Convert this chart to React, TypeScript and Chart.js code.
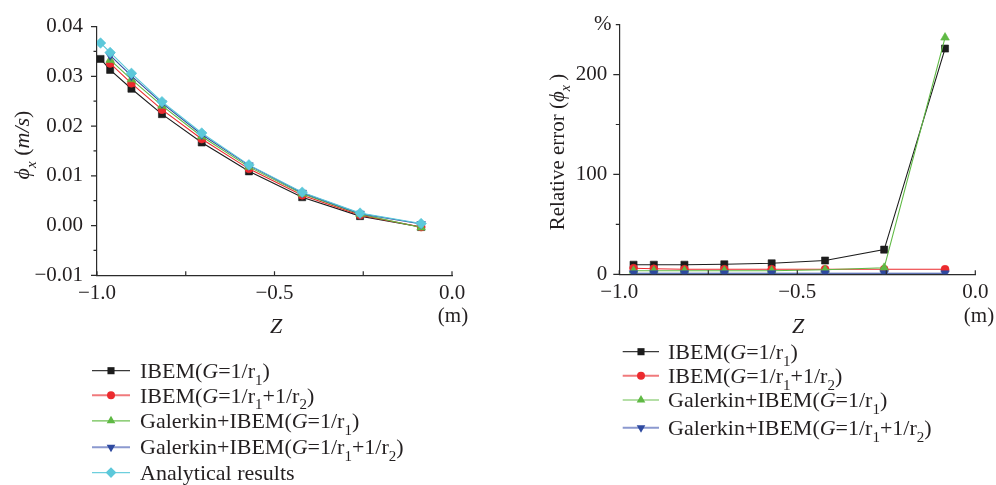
import React, { useEffect, useRef } from "react";
import { Chart, registerables } from "chart.js";

Chart.register(...registerables);

// Depth of the sample points along Z (m)
const zPhi = [-0.99, -0.963, -0.903, -0.817, -0.705, -0.572, -0.422, -0.259, -0.087];
const zErr = [-0.96, -0.903, -0.817, -0.705, -0.572, -0.422, -0.256, -0.085];

// Horizontal velocity potential derivative phi_x (m/s)
const phiIbemG1 = [0.0335, 0.0313, 0.0275, 0.0224, 0.0167, 0.0109, 0.0057, 0.0019, -0.0003];
const phiIbemG2 = [null, 0.0326, 0.0286, 0.0233, 0.0174, 0.0114, 0.0061, 0.0021, -0.0003];
const phiGalG1 = [null, 0.0333, 0.0294, 0.0241, 0.0179, 0.0118, 0.0064, 0.0023, -0.0004];
const phiGalG2 = [null, 0.0342, 0.0301, 0.0246, 0.0183, 0.0121, 0.0066, 0.0024, 0.0003];
const phiAnalytic = [0.0367, 0.0348, 0.0306, 0.0249, 0.0186, 0.0122, 0.0067, 0.0025, 0.0004];

// Relative error of phi_x (%)
const errIbemG1 = [9.6, 9.6, 9.6, 10, 11, 13.8, 24.7, 226];
const errIbemG2 = [6, 5.5, 5, 5, 5, 5, 5, 5];
const errGalG1 = [3.5, 3.5, 3.5, 3.5, 3.5, 4.5, 6.5, 237];
const errGalG2 = [1, 1, 1, 1, 1, 1, 1, 1];

// Axis ticks
const zTicks = [-1, -0.5, 0];
const zMinorTicks = [-0.75, -0.25];
const phiTicks = [-0.01, 0, 0.01, 0.02, 0.03, 0.04];
const phiMinorTicks = [-0.005, 0.005, 0.015, 0.025, 0.035];
const errTicks = [0, 100, 200];
const errMinorTicks = [50, 150, 250];

const FONT = '"Liberation Serif", "Times New Roman", Times, serif';
const INK = "#231f20";

type Seg = { t: string; it?: boolean; sub?: boolean };

const labelIbemG1: Seg[] = [{ t: "IBEM(" }, { t: "G", it: true }, { t: "=1/r" }, { t: "1", sub: true }, { t: ")" }];
const labelIbemG2: Seg[] = [
  { t: "IBEM(" }, { t: "G", it: true }, { t: "=1/r" }, { t: "1", sub: true },
  { t: "+1/r" }, { t: "2", sub: true }, { t: ")" },
];
const labelGalG1: Seg[] = [{ t: "Galerkin+IBEM(" }, { t: "G", it: true }, { t: "=1/r" }, { t: "1", sub: true }, { t: ")" }];
const labelGalG2: Seg[] = [
  { t: "Galerkin+IBEM(" }, { t: "G", it: true }, { t: "=1/r" }, { t: "1", sub: true },
  { t: "+1/r" }, { t: "2", sub: true }, { t: ")" },
];
const labelAnalytic: Seg[] = [{ t: "Analytical results" }];

type Style = {
  color: string;
  legendLine: string;
  legendWidth: number;
  point: string;
  radius: number;
  rotation?: number;
  order: number;
};

const sIbemG1: Style = { color: "#1c1c1c", legendLine: "#3a3a3a", legendWidth: 1.2, point: "rect", radius: 5, order: 5 };
const sIbemG2: Style = { color: "#ec2a2e", legendLine: "#f07a7c", legendWidth: 2, point: "circle", radius: 4, order: 4 };
const sGalG1: Style = { color: "#5fb944", legendLine: "#6cbf50", legendWidth: 1.2, point: "triangle", radius: 5, order: 3 };
const sGalG2: Style = { color: "#2f4aa0", legendLine: "#8b99cf", legendWidth: 2, point: "triangle", radius: 5, rotation: 180, order: 2 };
const sAnalytic: Style = { color: "#5cc8da", legendLine: "#6dcfdd", legendWidth: 1.2, point: "rectRot", radius: 5.3, order: 1 };

function fmt(v: number, d: number) {
  const s = Math.abs(v).toFixed(d);
  return v < -1e-9 ? "\u2212" + s : s;
}

function segFont(s: Seg, size: number) {
  return `${s.it ? "italic " : ""}${s.sub ? Math.round(size * 0.68) : size}px ${FONT}`;
}

function drawRich(
  ctx: CanvasRenderingContext2D,
  segs: Seg[],
  x: number,
  y: number,
  size: number,
  align: "left" | "center",
  rot = 0
) {
  ctx.save();
  ctx.translate(x, y);
  if (rot) ctx.rotate(rot);
  let w = 0;
  for (const s of segs) {
    ctx.font = segFont(s, size);
    w += ctx.measureText(s.t).width;
  }
  let cx = align === "center" ? -w / 2 : 0;
  ctx.textAlign = "left";
  ctx.textBaseline = "alphabetic";
  ctx.fillStyle = INK;
  const base = size * 0.33;
  for (const s of segs) {
    ctx.font = segFont(s, size);
    ctx.fillText(s.t, cx, base + (s.sub ? size * 0.3 : 0));
    cx += ctx.measureText(s.t).width;
  }
  ctx.restore();
}

function drawMarker(ctx: CanvasRenderingContext2D, st: Style, x: number, y: number) {
  const r = st.radius;
  ctx.save();
  ctx.fillStyle = st.color;
  ctx.beginPath();
  if (st.point === "rect") {
    const h = r * Math.SQRT1_2;
    ctx.rect(x - h, y - h, 2 * h, 2 * h);
  } else if (st.point === "circle") {
    ctx.arc(x, y, r, 0, Math.PI * 2);
  } else if (st.point === "rectRot") {
    ctx.moveTo(x, y - r);
    ctx.lineTo(x + r, y);
    ctx.lineTo(x, y + r);
    ctx.lineTo(x - r, y);
    ctx.closePath();
  } else {
    const dir = st.rotation ? -1 : 1;
    ctx.moveTo(x, y - dir * r);
    ctx.lineTo(x + r * 0.866, y + dir * r * 0.5);
    ctx.lineTo(x - r * 0.866, y + dir * r * 0.5);
    ctx.closePath();
  }
  ctx.fill();
  ctx.restore();
}

type TextItem = { segs: Seg[]; x: number; y: number; size: number; rot?: number };
type LegendItem = { segs: Seg[]; st: Style; y: number };
type Decor = {
  xMajor: number[];
  xMinor: number[];
  yMajor: number[];
  yMinor: number[];
  texts: TextItem[];
  legend: { x0: number; x1: number; mx: number; tx: number; size: number; items: LegendItem[] };
};

// Tick marks, axis captions and the legend, drawn onto the chart canvas
const decorPlugin = {
  id: "decor",
  afterDraw(chart: any, _args: any, opts: Decor) {
    const ctx: CanvasRenderingContext2D = chart.ctx;
    const xs = chart.scales.x;
    const ys = chart.scales.y;
    const area = chart.chartArea;
    ctx.save();
    ctx.strokeStyle = "#2b2b2b";
    ctx.lineWidth = 1.2;
    ctx.beginPath();
    for (const v of opts.yMajor) {
      const p = ys.getPixelForValue(v);
      ctx.moveTo(area.left - 6, p);
      ctx.lineTo(area.left, p);
    }
    for (const v of opts.yMinor) {
      const p = ys.getPixelForValue(v);
      ctx.moveTo(area.left - 3.5, p);
      ctx.lineTo(area.left, p);
    }
    for (const v of [...opts.xMajor, ...opts.xMinor]) {
      const p = xs.getPixelForValue(v);
      ctx.moveTo(p, area.bottom);
      ctx.lineTo(p, area.bottom - 4);
    }
    ctx.stroke();
    ctx.restore();

    for (const t of opts.texts) {
      drawRich(ctx, t.segs, t.x, t.y, t.size, "center", t.rot || 0);
    }

    const lg = opts.legend;
    for (const it of lg.items) {
      ctx.save();
      ctx.strokeStyle = it.st.legendLine;
      ctx.lineWidth = it.st.legendWidth;
      ctx.beginPath();
      ctx.moveTo(lg.x0, it.y);
      ctx.lineTo(lg.x1, it.y);
      ctx.stroke();
      ctx.restore();
      drawMarker(ctx, it.st, lg.mx, it.y);
      drawRich(ctx, it.segs, lg.tx, it.y, lg.size, "left");
    }
  },
};

function series(xs: number[], ys: (number | null)[], st: Style) {
  const data = xs
    .map((x, i) => ({ x, y: ys[i] }))
    .filter((p) => p.y !== null && p.y !== undefined);
  return {
    data,
    showLine: true,
    borderColor: st.color,
    backgroundColor: st.color,
    borderWidth: 1.1,
    pointStyle: st.point,
    pointRadius: st.radius,
    pointRotation: st.rotation || 0,
    pointBorderWidth: 0.6,
    pointBorderColor: st.color,
    pointBackgroundColor: st.color,
    order: st.order,
  };
}

function axisOptions(
  min: number,
  max: number,
  ticks: number[],
  digits: number,
  padding: number,
  fixed: { width?: number; height?: number }
) {
  return {
    type: "linear",
    min,
    max,
    grid: { display: false, drawTicks: false },
    border: { display: true, color: "#2b2b2b", width: 1.2 },
    afterBuildTicks: (s: any) => {
      s.ticks = ticks.map((v) => ({ value: v }));
    },
    afterFit: (s: any) => {
      if (fixed.width !== undefined) s.width = fixed.width;
      if (fixed.height !== undefined) s.height = fixed.height;
    },
    ticks: {
      autoSkip: false,
      maxRotation: 0,
      padding,
      color: INK,
      font: { family: FONT, size: 21 },
      callback: (v: any) => fmt(Number(v), digits),
    },
  };
}

function baseOptions(padding: any, x: any, y: any, decor: Decor) {
  return {
    responsive: false,
    animation: false,
    events: [],
    layout: { padding },
    scales: { x, y },
    plugins: { legend: { display: false }, tooltip: { enabled: false }, decor },
  };
}

function PhiChart() {
  const ref = useRef<HTMLCanvasElement>(null);
  useEffect(() => {
    const decor: Decor = {
      xMajor: zTicks,
      xMinor: zMinorTicks,
      yMajor: phiTicks,
      yMinor: phiMinorTicks,
      texts: [
        {
          segs: [{ t: "\u03d5", it: true }, { t: "x", it: true, sub: true }, { t: " (" }, { t: "m/s", it: true }, { t: ")" }],
          x: 22,
          y: 145,
          size: 22,
          rot: -Math.PI / 2,
        },
        { segs: [{ t: "Z", it: true }], x: 276, y: 325.5, size: 22 },
        { segs: [{ t: "(m)" }], x: 453, y: 315.5, size: 21 },
      ],
      legend: {
        x0: 92,
        x1: 130,
        mx: 111,
        tx: 140,
        size: 22,
        items: [
          { segs: labelIbemG1, st: sIbemG1, y: 370.7 },
          { segs: labelIbemG2, st: sIbemG2, y: 395.3 },
          { segs: labelGalG1, st: sGalG1, y: 420.8 },
          { segs: labelGalG2, st: sGalG2, y: 447.2 },
          { segs: labelAnalytic, st: sAnalytic, y: 472.6 },
        ],
      },
    };
    const chart = new Chart(ref.current as HTMLCanvasElement, {
      type: "scatter",
      data: {
        datasets: [
          series(zPhi, phiIbemG1, sIbemG1),
          series(zPhi, phiIbemG2, sIbemG2),
          series(zPhi, phiGalG1, sGalG1),
          series(zPhi, phiGalG2, sGalG2),
          series(zPhi, phiAnalytic, sAnalytic),
        ],
      } as any,
      options: baseOptions(
        { left: 7, right: 46, top: 17.3, bottom: 170 },
        axisOptions(-1, 0, zTicks, 1, 6, { height: 39.7 }),
        axisOptions(-0.01, 0.04, phiTicks, 2, 14, { width: 90 }),
        decor
      ) as any,
      plugins: [decorPlugin as any],
    });
    return () => chart.destroy();
  }, []);
  return <canvas ref={ref} width={498} height={485} style={{ display: "block" }} />;
}

function ErrorChart() {
  const ref = useRef<HTMLCanvasElement>(null);
  useEffect(() => {
    const decor: Decor = {
      xMajor: zTicks,
      xMinor: zMinorTicks,
      yMajor: errTicks,
      yMinor: errMinorTicks,
      texts: [
        {
          segs: [
            { t: "Relative error (" },
            { t: "\u03d5", it: true },
            { t: "x", it: true, sub: true },
            { t: "\u2009)" },
          ],
          x: 59,
          y: 152,
          size: 21,
          rot: -Math.PI / 2,
        },
        { segs: [{ t: "%" }], x: 104.7, y: 23, size: 21 },
        { segs: [{ t: "Z", it: true }], x: 300, y: 325.5, size: 22 },
        { segs: [{ t: "(m)" }], x: 481, y: 315.5, size: 21 },
      ],
      legend: {
        x0: 124.7,
        x1: 161,
        mx: 143,
        tx: 170,
        size: 22,
        items: [
          { segs: labelIbemG1, st: sIbemG1, y: 351.7 },
          { segs: labelIbemG2, st: sIbemG2, y: 375.7 },
          { segs: labelGalG1, st: sGalG1, y: 400 },
          { segs: labelGalG2, st: sGalG2, y: 427.7 },
        ],
      },
    };
    const chart = new Chart(ref.current as HTMLCanvasElement, {
      type: "scatter",
      data: {
        datasets: [
          series(zErr, errIbemG1, sIbemG1),
          series(zErr, errIbemG2, sIbemG2),
          series(zErr, errGalG1, sGalG1),
          series(zErr, errGalG2, sGalG2),
        ],
      } as any,
      options: baseOptions(
        { left: 31.3, right: 20.7, top: 14, bottom: 170 },
        axisOptions(-1, 0, zTicks, 1, 6, { height: 40.7 }),
        axisOptions(0, 250, errTicks, 0, 12, { width: 90 }),
        decor
      ) as any,
      plugins: [decorPlugin as any],
    });
    return () => chart.destroy();
  }, []);
  return <canvas ref={ref} width={498} height={485} style={{ display: "block" }} />;
}

export default function App() {
  return (
    <div
      style={{
        position: "fixed",
        left: 0,
        top: 0,
        width: 996,
        height: 485,
        display: "flex",
        background: "#ffffff",
      }}
    >
      <PhiChart />
      <ErrorChart />
    </div>
  );
}
